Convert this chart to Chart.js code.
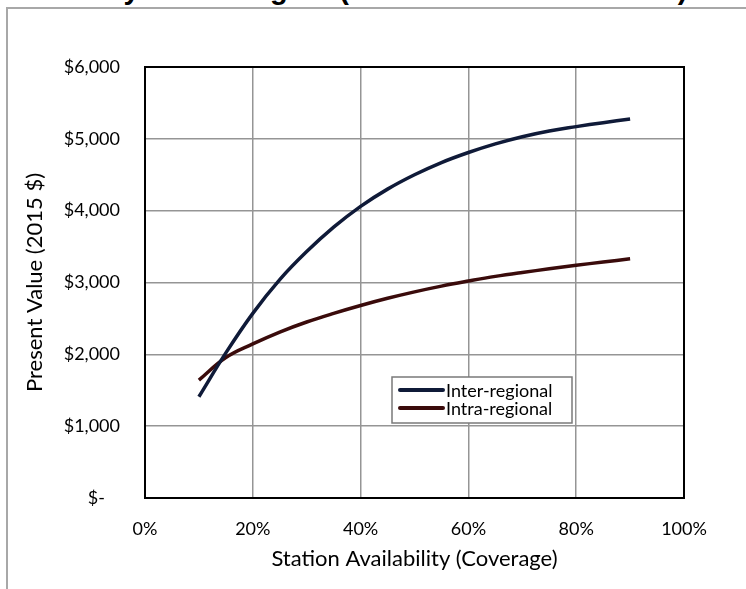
<!DOCTYPE html>
<html>
<head>
<meta charset="utf-8">
<script src="https://cdn.jsdelivr.net/npm/chart.js@4.4.1/dist/chart.umd.min.js"></script>
<style>
html,body{margin:0;padding:0;background:#fff;}
#wrap{position:relative;width:746px;height:589px;overflow:hidden;}
#frame{position:absolute;left:6px;top:7px;width:760px;height:600px;border-top:2px solid #a8a8a8;border-left:2px solid #a8a8a8;}
#title{position:absolute;left:-237px;top:-27px;white-space:nowrap;font:bold 29px "Liberation Sans",Arial,sans-serif;color:#000;}
canvas{position:absolute;left:0;top:0;}
</style>
</head>
<body>
<div id="wrap">
  <div id="title">Value of Station Availability in the Region (Annual Household Cost)</div>
  <div id="frame"></div>
  <canvas id="chart" width="746" height="589"></canvas>
</div>
<script>
// station coverage (fraction of stations available)
const coverage = [0.10,0.15,0.20,0.25,0.30,0.35,0.40,0.45,0.50,0.55,0.60,0.65,0.70,0.75,0.80,0.85,0.90];
// present value, 2015 $
const interRegional = [1410,2020,2570,3040,3430,3770,4060,4300,4500,4670,4810,4930,5030,5110,5170,5225,5275];
const intraRegional = [1640,1955,2145,2310,2450,2570,2680,2780,2870,2950,3020,3085,3140,3190,3240,3285,3330];
const seriesNames = ['Inter-regional','Intra-regional'];
const seriesColors = ['#0f1a38','#3a0b0b'];
const xTicks = [0,0.2,0.4,0.6,0.8,1.0];

const FONT = 'Lato, "Noto Sans", sans-serif';

function pts(ys){ return coverage.map((x,i)=>({x, y: ys[i]})); }

// black box around the plot area + inset legend
const boxPlugin = {
  id:'box',
  afterDraw(chart){
    const {ctx, chartArea:a} = chart;
    ctx.save();
    ctx.strokeStyle='#000'; ctx.lineWidth=2;
    ctx.strokeRect(a.left, a.top, a.right-a.left, a.bottom-a.top);

    // legend
    const lx=392, ly=377, lw=180, lh=46;
    ctx.fillStyle='#fff'; ctx.fillRect(lx,ly,lw,lh);
    ctx.strokeStyle='#7a7a7a'; ctx.lineWidth=1.5;
    ctx.strokeRect(lx,ly,lw,lh);
    ctx.font='18px '+FONT; ctx.textBaseline='middle'; ctx.fillStyle='#000';
    chart.data.datasets.forEach((ds,i)=>{
      const y = ly+13+i*18;
      ctx.strokeStyle=ds.borderColor; ctx.lineWidth=4; ctx.lineCap='round';
      ctx.beginPath(); ctx.moveTo(lx+8,y); ctx.lineTo(lx+51,y); ctx.stroke();
      ctx.fillText(ds.label, lx+54, y+1);
    });
    ctx.restore();
  }
};

new Chart(document.getElementById('chart'), {
  type:'line',
  data:{
    datasets:[
      {label:seriesNames[0], data:pts(interRegional), borderColor:seriesColors[0], borderWidth:3.5, pointRadius:0, tension:0.4, fill:false},
      {label:seriesNames[1], data:pts(intraRegional), borderColor:seriesColors[1], borderWidth:3.5, pointRadius:0, tension:0.4, fill:false}
    ]
  },
  options:{
    responsive:false, animation:false,
    layout:{padding:{top:67,right:62,left:0,bottom:0}},
    plugins:{legend:{display:false}, tooltip:{enabled:false}},
    scales:{
      x:{
        type:'linear', min:0, max:1,
        afterBuildTicks: s => { s.ticks = xTicks.map(v=>({value:v})); },
        afterFit: s => { s.height = 91; },
        ticks:{ callback: v => Math.round(v*100)+'%', color:'#000', font:{family:FONT,size:18}, padding:20, maxRotation:0 },
        grid:{ color:'#959595', lineWidth:1.5, drawTicks:false },
        border:{ color:'#000', width:2 },
        title:{ display:true, text:'Station Availability (Coverage)', color:'#000', font:{family:FONT,size:22}, padding:{top:0,bottom:17} }
      },
      y:{
        min:0, max:6000,
        afterFit: s => { s.width = 145; },
        ticks:{ stepSize:1000, color:'#000', font:{family:FONT,size:18}, padding:25,
          callback: v => v===0 ? '$-\u2007 ' : '$'+v.toLocaleString('en-US') },
        grid:{ color:'#959595', lineWidth:1.5, drawTicks:false },
        border:{ color:'#000', width:2 },
        title:{ display:true, text:'Present Value (2015 $)', color:'#000', font:{family:FONT,size:22}, padding:{top:22,bottom:0} }
      }
    }
  },
  plugins:[boxPlugin]
});
</script>
</body>
</html>
